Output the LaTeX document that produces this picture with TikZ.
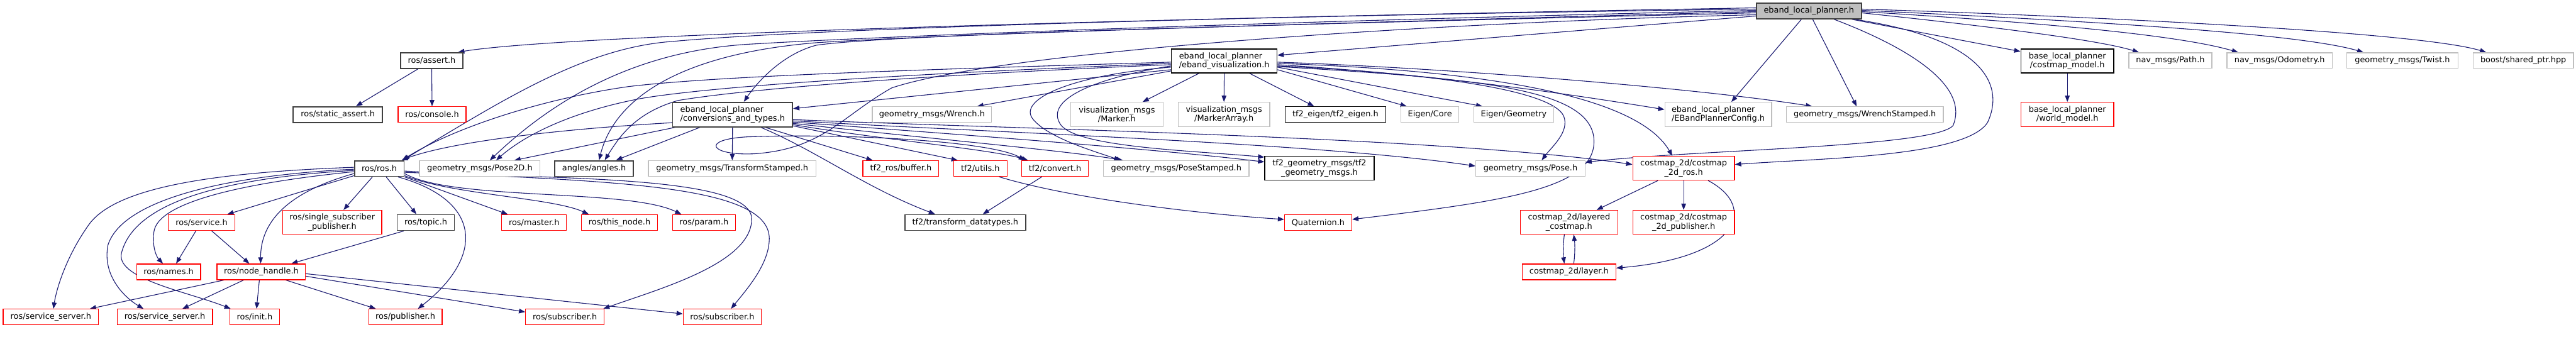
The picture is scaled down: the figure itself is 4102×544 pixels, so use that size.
\documentclass[tikz,border=0pt]{standalone}
\usepackage{fontspec}
\setmainfont{DejaVu Sans}
\usetikzlibrary{arrows.meta,calc}
\definecolor{edgeblue}{HTML}{191970}
\definecolor{gborder}{HTML}{BFBFBF}
\definecolor{rborder}{HTML}{FF0000}
\definecolor{dborder}{HTML}{404040}
\definecolor{topfill}{HTML}{BFBFBF}
\pgfdeclarelayer{bg}
\pgfsetlayers{bg,main}
\begin{document}
\begin{tikzpicture}[x=1pt,y=-1pt,
 nd/.style={rectangle, inner sep=0pt, font=\fontsize{12.9}{14.3}\selectfont, fill=white},
 sz/.style 2 args={minimum width=#1, minimum height=#2},
 dgr/.style={nd, draw=dborder, line width=1.8},
 blk/.style={nd, draw=black, line width=1.4},
 redb/.style={nd, draw=rborder, line width=1.3},
 gry/.style={nd, draw=gborder, line width=1.3},
 topn/.style={nd, draw=dborder, fill=topfill, line width=1.6},
 e/.style={draw=edgeblue, line width=1.1, -{Triangle[length=10pt,width=7.5pt]}},
]
\useasboundingbox (0,0) rectangle (4102,544);
% nodes
\node[topn, sz={167}{25}] (T) at (2880.5,17.5) {eband\_local\_planner.h};
\node[dgr, sz={99}{25}] (AS) at (687.5,96.5) {ros/assert.h};
\node[dgr, sz={142}{25}] (SA) at (538,182.5) {ros/static\_assert.h};
\node[redb, sz={108}{25}] (CO) at (688,182.5) {ros/console.h};
\node[dgr, sz={79}{25}] (R) at (604,268.5) {ros/ros.h};
\node[gry, sz={192}{25}] (P2) at (764,268.5) {geometry\_msgs/Pose2D.h};
\node[dgr, sz={125}{25}] (AN) at (946,268.5) {angles/angles.h};
\node[gry, sz={267}{25}] (TS) at (1166,268.5) {geometry\_msgs/TransformStamped.h};
\node[dgr, sz={191}{39}, align=left] (C) at (1166.5,182.5) {eband\_local\_planner\\/conversions\_and\_types.h};
\node[redb, sz={106}{25}] (SVC) at (321,354.5) {ros/service.h};
\node[redb, sz={158}{38}, align=center] (SSP) at (529,354) {ros/single\_subscriber\\\_publisher.h};
\node[dgr, sz={91}{25}] (TOP) at (678,354.5) {ros/topic.h};
\node[redb, sz={103}{25}] (MA) at (850.5,354.5) {ros/master.h};
\node[redb, sz={121}{25}] (TN) at (986.5,354.5) {ros/this\_node.h};
\node[redb, sz={100}{25}] (PA) at (1121,354.5) {ros/param.h};
\node[redb, sz={102}{25}] (NM) at (268.5,433) {ros/names.h};
\node[redb, sz={141}{25}] (NH) at (416,433) {ros/node\_handle.h};
\node[redb, sz={152}{25}] (SS1) at (81,505) {ros/service\_server.h};
\node[redb, sz={152}{25}] (SS2) at (262.5,505) {ros/service\_server.h};
\node[redb, sz={79}{25}] (IN) at (405.5,505) {ros/init.h};
\node[redb, sz={117}{25}] (PU) at (645.5,505) {ros/publisher.h};
\node[redb, sz={125}{25}] (SU1) at (899.5,505) {ros/subscriber.h};
\node[redb, sz={124}{25}] (SU2) at (1150,505) {ros/subscriber.h};
\node[blk, sz={168}{38}, align=left] (V) at (1949.5,97) {eband\_local\_planner\\/eband\_visualization.h};
\node[gry, sz={190}{25}] (WR) at (1484,182.5) {geometry\_msgs/Wrench.h};
\node[gry, sz={147}{39}, align=center] (MK) at (1778.5,182.5) {visualization\_msgs\\/Marker.h};
\node[gry, sz={146}{39}, align=center] (MKA) at (1949,182.5) {visualization\_msgs\\/MarkerArray.h};
\node[blk, sz={160}{25}] (TE) at (2126.5,182.5) {tf2\_eigen/tf2\_eigen.h};
\node[gry, sz={92}{25}] (EC) at (2277,182.5) {Eigen/Core};
\node[gry, sz={127}{25}] (EG) at (2410.5,182.5) {Eigen/Geometry};
\node[gry, sz={170}{39}, align=left] (EB) at (2736,182.5) {eband\_local\_planner\\/EBandPlannerConfig.h};
\node[gry, sz={250}{25}] (WS) at (2969.5,182.5) {geometry\_msgs/WrenchStamped.h};
\node[blk, sz={148}{38}, align=center] (CM) at (3292,97) {base\_local\_planner\\/costmap\_model.h};
\node[redb, sz={148}{39}, align=center] (WM) at (3292,182.5) {base\_local\_planner\\/world\_model.h};
\node[gry, sz={132}{25}] (NP) at (3456,96.5) {nav\_msgs/Path.h};
\node[gry, sz={168}{25}] (NO) at (3630,96.5) {nav\_msgs/Odometry.h};
\node[gry, sz={177}{25}] (TW) at (3825.5,96.5) {geometry\_msgs/Twist.h};
\node[gry, sz={160}{25}] (BS) at (4018,96.5) {boost/shared\_ptr.hpp};
\node[redb, sz={121}{25}] (TB) at (1434.5,268.5) {tf2\_ros/buffer.h};
\node[redb, sz={85}{25}] (TU) at (1561,268.5) {tf2/utils.h};
\node[redb, sz={106}{25}] (TC) at (1680,268.5) {tf2/convert.h};
\node[gry, sz={232}{25}] (PS) at (1873,268.5) {geometry\_msgs/PoseStamped.h};
\node[blk, sz={174}{38}, align=center] (TG) at (2101,268) {tf2\_geometry\_msgs/tf2\\\_geometry\_msgs.h};
\node[gry, sz={174}{25}] (PO) at (2437,268.5) {geometry\_msgs/Pose.h};
\node[redb, sz={162}{38}, align=center] (CR) at (2681,268) {costmap\_2d/costmap\\\_2d\_ros.h};
\node[dgr, sz={192}{25}] (TD) at (1537,354.5) {tf2/transform\_datatypes.h};
\node[redb, sz={107}{25}] (QU) at (2099,354.5) {Quaternion.h};
\node[redb, sz={155}{38}, align=center] (LC) at (2498.5,354) {costmap\_2d/layered\\\_costmap.h};
\node[redb, sz={162}{38}, align=center] (CP) at (2681,354) {costmap\_2d/costmap\\\_2d\_publisher.h};
\node[redb, sz={149}{25}] (LA) at (2498.5,433) {costmap\_2d/layer.h};
\begin{pgfonlayer}{bg}
% from eband_local_planner.h
\draw[e] ($(T.west)+(0,-5)$) .. controls (1800,30) and (900,55) .. ($(AS.north)+(42,0)$);
\draw[e] ($(T.west)+(0,-3)$) .. controls (2000,25) and (1300,45) .. (1071,66) .. controls (930,76) and (800,160) .. ($(R.north east)+(-3,0)$);
\draw[e] ($(T.west)+(0,-1)$) .. controls (2000,35) and (1400,58) .. (1200,70) .. controls (1000,80) and (870,170) .. ($(P2.north)+(16,0)$);
\draw[e] ($(T.west)+(0,1)$) .. controls (2000,40) and (1500,55) .. (1300,68) .. controls (1060,88) and (975,170) .. ($(AN.north)+(8,0)$);
\draw[e] ($(T.west)+(0,3)$) .. controls (2000,40) and (1420,55) .. (1300,72) .. controls (1250,85) and (1210,125) .. ($(C.north)+(18,0)$);
\draw[e] ($(T.west)+(0,8)$) -- ($(V.east)+(0,-9)$);
\draw[e] ($(T.west)+(0,6)$) .. controls (2300,35) and (1600,80) .. (1420,140) .. controls (1340,185) and (1310,238) .. (1200,245) .. controls (1130,248) and (1115,222) .. (1190,218) .. controls (1350,212) and (1580,225) .. ($(TC.north)+(-48,0)$);
\draw[e] ($(T.south)+(-12,0)$) -- ($(EB.north)+(21,0)$);
\draw[e] ($(T.south)+(6,0)$) -- ($(WS.north)+(-13,0)$);
\draw[e] ($(T.south east)+(-16,0)$) -- ($(CM.west)+(0,-15)$);
\draw[e] ($(T.east)+(0,3)$) .. controls (3100,35) and (3330,60) .. ($(NP.north)+(-50,0)$);
\draw[e] ($(T.east)+(0,1)$) .. controls (3150,30) and (3450,50) .. ($(NO.north)+(-66,0)$);
\draw[e] ($(T.east)+(0,-1)$) .. controls (3250,30) and (3650,50) .. ($(TW.north)+(-62,0)$);
\draw[e] ($(T.east)+(0,-3)$) .. controls (3300,25) and (3850,50) .. ($(BS.north)+(-59,0)$);
\draw[e] ($(T.south)+(40,0)$) .. controls (3050,80) and (3135,140) .. (3110,200) .. controls (3080,235) and (2700,238) .. ($(PO.east)+(0,-10)$);
\draw[e] ($(T.south east)+(-12,0)$) .. controls (3150,60) and (3195,130) .. (3165,195) .. controls (3130,250) and (2900,252) .. ($(CR.east)+(0,-6)$);
% from eband_visualization.h
\draw[e] ($(V.west)+(0,2)$) .. controls (1500,110) and (1150,120) .. (1000,138) .. controls (860,158) and (720,205) .. ($(R.north east)+(-4,0)$);
\draw[e] ($(V.west)+(0,4)$) .. controls (1500,115) and (1150,135) .. (1020,157) .. controls (900,180) and (830,220) .. ($(P2.north)+(26,0)$);
\draw[e] ($(V.west)+(0,6)$) .. controls (1500,118) and (1200,140) .. (1080,160) .. controls (1010,180) and (985,220) .. ($(AN.north)+(17,0)$);
\draw[e] ($(V.west)+(0,14)$) -- ($(C.east)+(0,-9.5)$);
\draw[e] ($(V.west)+(0,16)$) -- ($(WR.north)+(72,0)$);
\draw[e] ($(V.south)+(-40,0)$) -- ($(MK.north)+(41,0)$);
\draw[e] (V.south) -- (MKA.north);
\draw[e] ($(V.south)+(40,0)$) -- ($(TE.north)+(-34,0)$);
\draw[e] ($(V.east)+(0,14)$) -- ($(EC.north)+(-37,0)$);
\draw[e] ($(V.east)+(0,10)$) -- ($(EG.north)+(-50,0)$);
\draw[e] ($(V.east)+(0,6)$) .. controls (2300,120) and (2500,150) .. ($(EB.west)+(0,-8)$);
\draw[e] ($(V.east)+(0,2)$) .. controls (2300,108) and (2700,140) .. ($(WS.north)+(-84,0)$);
\draw[e] ($(V.east)+(0,8)$) .. controls (2250,115) and (2470,140) .. (2490,185) .. controls (2500,210) and (2470,235) .. ($(PO.north)+(18,0)$);
\draw[e] ($(V.east)+(0,9)$) .. controls (2350,125) and (2530,140) .. (2538,220) .. controls (2545,300) and (2400,320) .. ($(QU.east)+(0,-5)$);
\draw[e] ($(V.east)+(0,4)$) .. controls (2300,110) and (2600,140) .. ($(CR.north)+(-18,0)$);
\draw[e] ($(V.west)+(0,10)$) .. controls (1700,120) and (1620,160) .. (1645,190) .. controls (1670,220) and (1740,240) .. ($(PS.north)+(-89,0)$);
\draw[e] ($(V.west)+(0,8)$) .. controls (1740,125) and (1660,160) .. (1690,200) .. controls (1720,235) and (1900,240) .. ($(TG.north west)+(0,2)$);
% from conversions_and_types.h
\draw[e] ($(C.west)+(0,13)$) .. controls (900,205) and (720,225) .. ($(R.north east)+(-5,0)$);
\draw[e] ($(C.south west)+(5,0)$) -- ($(P2.north)+(55,0)$);
\draw[e] ($(C.south)+(-52,0)$) -- ($(AN.north)+(35,0)$);
\draw[e] (C.south) -- (TS.north);
\draw[e] ($(C.south)+(52,0)$) -- ($(TB.north)+(-45,0)$);
\draw[e] ($(C.east)+(0,18)$) -- ($(TU.north)+(-36,0)$);
\draw[e] ($(C.east)+(0,16)$) .. controls (1400,222) and (1580,238) .. ($(TC.north)+(-43,0)$);
\draw[e] ($(C.east)+(0,14)$) .. controls (1450,218) and (1700,240) .. ($(PS.north)+(-85,0)$);
\draw[e] ($(C.east)+(0,12)$) .. controls (1500,212) and (1850,238) .. ($(TG.west)+(0,-10)$);
\draw[e] ($(C.east)+(0,10)$) .. controls (1600,212) and (2100,228) .. ($(PO.west)+(0,-4)$);
\draw[e] ($(C.east)+(0,8)$) .. controls (1600,205) and (2300,218) .. ($(CR.west)+(0,-6)$);
\draw[e] ($(C.south)+(45,0)$) .. controls (1300,240) and (1380,300) .. ($(TD.north)+(-48,0)$);
% ros/assert.h
\draw[e] ($(AS.south)+(-22,0)$) -- ($(SA.north)+(29,0)$);
\draw[e] (AS.south) -- (CO.north);
% ros/ros.h
\draw[e] ($(R.west)+(0,-2)$) .. controls (330,275) and (180,300) .. (140,360) .. controls (105,410) and (90,460) .. ($(SS1.north)+(4,0)$);
\draw[e] ($(R.west)+(0,1)$) .. controls (350,280) and (195,320) .. (172,390) .. controls (162,440) and (200,475) .. ($(SS2.north)+(-34,0)$);
\draw[e] ($(R.west)+(0,3)$) .. controls (330,285) and (210,330) .. (193,405) .. controls (188,445) and (300,465) .. ($(IN.north west)+(2,0)$);
\draw[e] ($(R.west)+(0,5)$) .. controls (400,290) and (250,320) .. (245,370) .. controls (242,395) and (250,410) .. ($(NM.north)+(-9,0)$);
\draw[e] ($(R.south west)+(0,-2)$) -- ($(SVC.north)+(41,0)$);
\draw[e] ($(R.west)+(0,8)$) .. controls (480,300) and (415,340) .. ($(NH.north)+(-1,0)$);
\draw[e] ($(R.south)+(-11,0)$) -- ($(SSP.north)+(18,0)$);
\draw[e] ($(R.south)+(11,0)$) -- ($(TOP.north)+(-15,0)$);
\draw[e] ($(R.south)+(30,0)$) .. controls (770,320) and (770,410) .. ($(PU.north)+(20,0)$);
\draw[e] (R.south east) -- ($(MA.north)+(-42,0)$);
\draw[e] ($(R.south east)+(0,-2)$) .. controls (720,310) and (880,315) .. ($(TN.north)+(-49,0)$);
\draw[e] ($(R.east)+(0,8)$) .. controls (720,320) and (1000,300) .. ($(PA.north)+(-36,0)$);
\draw[e] ($(R.east)+(0,6)$) .. controls (900,285) and (1200,280) .. (1197,350) .. controls (1195,420) and (1050,460) .. ($(SU1.north east)+(-2,0)$);
\draw[e] ($(R.east)+(0,4)$) .. controls (950,290) and (1225,290) .. (1225,380) .. controls (1225,420) and (1190,460) .. ($(SU2.north)+(14,0)$);
% service, topic, node_handle
\draw[e] ($(SVC.south)+(-9,0)$) -- ($(NM.north)+(12,0)$);
\draw[e] ($(SVC.south)+(16,0)$) -- ($(NH.north)+(-19,0)$);
\draw[e] ($(TOP.south)+(-35,0)$) -- ($(NH.north)+(48,0)$);
\draw[e] ($(NH.south west)+(12,0)$) -- ($(SS1.north)+(62,0)$);
\draw[e] ($(NH.south)+(-28,0)$) -- ($(SS2.north)+(28,0)$);
\draw[e] ($(NH.south)+(-3,0)$) -- ($(IN.north)+(3,0)$);
\draw[e] ($(NH.south)+(39,0)$) -- ($(PU.north)+(-47,0)$);
\draw[e] ($(NH.east)+(0,7)$) -- ($(SU1.west)+(0,-8)$);
\draw[e] ($(NH.east)+(0,3)$) -- ($(SU2.west)+(0,-5)$);
% tf2
\draw[e] ($(TU.south)+(30,0)$) .. controls (1700,315) and (1900,340) .. ($(QU.west)+(0,-5)$);
\draw[e] ($(TC.south)+(-21,0)$) -- ($(TD.north)+(28,0)$);
% costmap
\draw[e] ($(CR.south)+(-41,0)$) -- ($(LC.north)+(44,0)$);
\draw[e] (CR.south) -- (CP.north);
\draw[e] ($(CR.south)+(39,0)$) .. controls (2800,330) and (2770,410) .. ($(LA.east)+(0,-6)$);
\draw[e] ($(LC.south)+(-7.5,0)$) .. controls (2489,390) and (2489,405) .. ($(LA.north)+(-7.5,0)$);
\draw[e] ($(LA.north)+(7.5,0)$) .. controls (2508,405) and (2508,390) .. ($(LC.south)+(7.5,0)$);
\draw[e] (CM.south) -- (WM.north);
\end{pgfonlayer}
\end{tikzpicture}
\end{document}
